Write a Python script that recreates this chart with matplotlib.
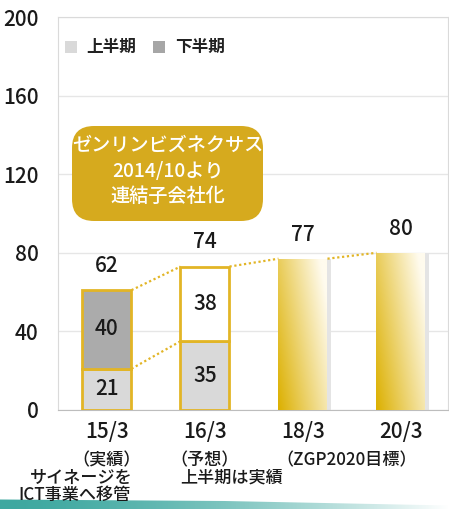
import numpy as np
import matplotlib
matplotlib.use("Agg")
import matplotlib.pyplot as plt
import matplotlib.transforms as mtransforms
from matplotlib.patches import FancyBboxPatch, Rectangle, Polygon

plt.rcParams['font.family'] = ['Noto Sans CJK JP', 'DejaVu Sans']
plt.rcParams['font.weight'] = 'medium'

# ---- data ----
categories = ["15/3", "16/3", "18/3", "20/3"]
sub_labels = ["（実績）", "（予想）"]
first_half = [21, 35]          # 上半期
second_half = [40, 38]         # 下半期
totals = [62, 74, 77, 80]
target_values = [77, 80]       # 18/3, 20/3
yticks = [0, 40, 80, 120, 160, 200]
legend_labels = ["上半期", "下半期"]
callout_lines = ["ゼンリンビズネクサス", "2014/10より", "連結子会社化"]

W, H = 449, 509
fig = plt.figure(figsize=(W / 100, H / 100), dpi=100)
fig.patch.set_facecolor("white")
px = mtransforms.Affine2D().scale(1 / W, 1 / H) + fig.transFigure  # pixel coords (origin bottom-left)

ax = fig.add_axes([58 / W, 1 - 410 / H, (448 - 58) / W, (410 - 17) / H])
ax.set_xlim(-0.5, 3.48)
ax.set_ylim(0, 200)

GOLD = "#E2B526"
LIGHT = "#D9D9D9"
DARK = "#ABABAB"

# grid / frame
ax.set_yticks(yticks)
ax.grid(axis="y", color="#E6E6E6", linewidth=1)
ax.set_axisbelow(True)
for s in ["top", "left", "right"]:
    ax.spines[s].set_color("#DADADA")
ax.spines["bottom"].set_color("#BDBDBD")
ax.tick_params(axis="y", length=0, pad=14, labelsize=15, labelcolor="#1a1a1a")
ax.tick_params(axis="x", length=0, pad=8, labelsize=15, labelcolor="#1a1a1a")

x = np.arange(len(categories))
bw = 0.5

# stacked bars (15/3, 16/3)
xs = x[:2]
ax.bar(xs, first_half, width=bw, color=LIGHT, edgecolor=GOLD, linewidth=2, zorder=3)
ax.bar(xs, second_half, width=bw, bottom=first_half, color=[DARK, "white"],
       edgecolor=GOLD, linewidth=2, zorder=3)

# gradient bars (18/3, 20/3)
c0 = np.array([0xDC, 0xB0, 0x00]) / 255
c1 = np.array([0xFF, 0xFB, 0xEE]) / 255
uu, vv = np.meshgrid(np.linspace(0, 1, 60), np.linspace(0, 1, 200))
t = np.clip(0.72 * uu + 0.38 * vv, 0, 1)[..., None]
grad = c0 * (1 - t) + c1 * t
xt = x[2:]
bars = ax.bar(xt, target_values, width=bw, color="none", edgecolor="none", zorder=3)
for b in bars:
    bx, by, bwid, bh = b.get_x(), b.get_y(), b.get_width(), b.get_height()
    sh = Rectangle((bx + bwid, by), 0.035, bh, facecolor="#E4E4E4", edgecolor="none", zorder=2)
    ax.add_patch(sh)
    im = ax.imshow(grad, extent=[bx, bx + bwid, by, by + bh], origin="lower",
                   aspect="auto", zorder=3)
    im.set_clip_path(b)

# dotted connectors
tops = [first_half[0] + second_half[0], first_half[1] + second_half[1]] + target_values
dot = dict(color=GOLD, linestyle=(0, (1, 1.2)), linewidth=1.6, zorder=2)
ax.plot([x[0] + bw / 2, x[1] - bw / 2], [first_half[0], first_half[1]], **dot)
for i in range(3):
    ax.plot([x[i] + bw / 2, x[i + 1] - bw / 2], [tops[i], tops[i + 1]], **dot)

# value labels
for i in range(len(categories)):
    ax.annotate(str(totals[i]), (x[i], tops[i]), xytext=(0, 13), textcoords="offset points",
                ha="center", va="baseline", fontsize=15, color="#1a1a1a")
for i in range(2):
    ax.text(x[i], first_half[i] / 2, str(first_half[i]), ha="center", va="center",
            fontsize=15, color="#1a1a1a", zorder=4)
    ax.text(x[i], first_half[i] + second_half[i] / 2, str(second_half[i]), ha="center",
            va="center", fontsize=15, color="#1a1a1a", zorder=4)

ax.set_xticks(x)
ax.set_xticklabels(categories)

# sub labels under x axis
tc = "#1a1a1a"
fs = 12.3
fig.text(107 / W, 1 - 460 / H, sub_labels[0], ha="center", va="center", fontsize=fs, color=tc, zorder=5)
fig.text(205 / W, 1 - 460 / H, sub_labels[1], ha="center", va="center", fontsize=fs, color=tc, zorder=5)
fig.text(347 / W, 1 - 460 / H, "（ZGP2020目標）", ha="center", va="center", fontsize=fs, color=tc, zorder=5)
fig.text(133 / W, 1 - 478 / H, "サイネージを", ha="right", va="center", fontsize=fs, color=tc, zorder=5)
fig.text(131 / W, 1 - 495 / H, "ICT事業へ移管", ha="right", va="center", fontsize=fs, color=tc, zorder=5)
fig.text(180 / W, 1 - 478 / H, "上半期は実績", ha="left", va="center", fontsize=fs, color=tc, zorder=5)

# legend
leg_items = [(65, LIGHT, 86), (153, "#A6A6A6", 175)]
for (sx, col, tx), lab in zip(leg_items, legend_labels):
    fig.add_artist(Rectangle((sx, H - 53), 12, 12, facecolor=col, edgecolor="none", transform=px))
    fig.text(tx / W, 1 - 47 / H, lab, ha="left", va="center", fontsize=12,
             fontweight="bold", color="#222222")

# callout box
box = FancyBboxPatch((72, H - 221), 191, 95, boxstyle="round,pad=0,rounding_size=22",
                     facecolor="#D6AA1E", edgecolor="none", transform=px, zorder=6)
fig.add_artist(box)
for k, line in enumerate(callout_lines):
    fig.text(167.5 / W, 1 - (145 + 25.5 * k) / H, line, ha="center", va="center",
             fontsize=13.8, color="white", zorder=7)

# bottom teal strip
sax = fig.add_axes([0, 0, 1, 10 / H], zorder=-1)
sax.set_axis_off()
ct0 = np.array([0x3E, 0xA8, 0xA0]) / 255
ct1 = np.array([1.0, 1.0, 1.0])
tt = np.linspace(0, 1, 400) ** 1.6
tt = tt[None, :, None]
strip = ct0 * (1 - tt) + ct1 * tt
im = sax.imshow(np.repeat(strip, 4, axis=0), extent=[0, 1, 0, 1], aspect="auto")
sax.set_xlim(0, 1)
sax.set_ylim(0, 1)
poly = Polygon([[0, 0], [0, 0.95], [0.5, 0.8], [1, 0.35], [1, 0]], closed=True,
               transform=sax.transData, facecolor="none", edgecolor="none")
sax.add_patch(poly)
im.set_clip_path(poly)

fig.savefig("out.png", dpi=100, facecolor="white")
